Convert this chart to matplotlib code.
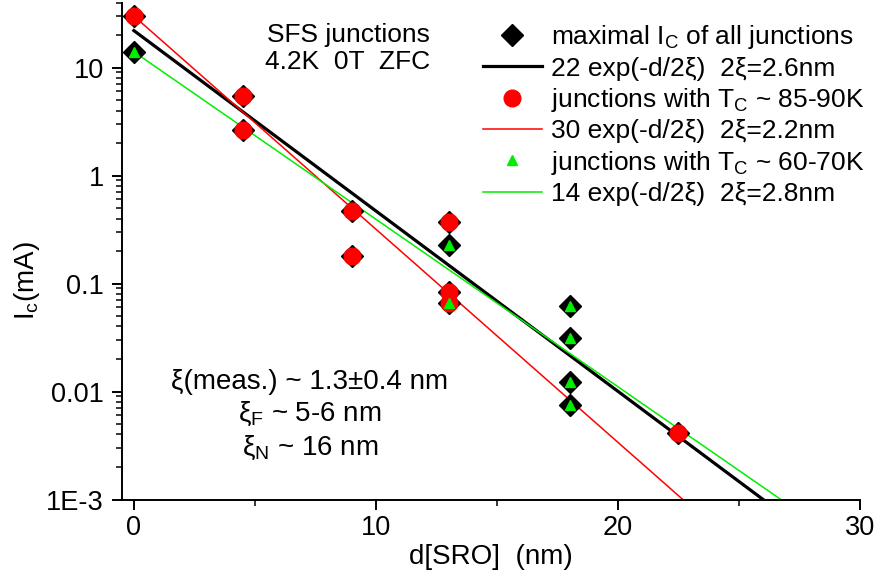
import numpy as np
import matplotlib
matplotlib.use("Agg")
import matplotlib.pyplot as plt
from matplotlib.lines import Line2D
from matplotlib.ticker import FixedLocator, LogLocator, NullFormatter, FixedFormatter

plt.rcParams['font.family'] = ['Liberation Sans', 'DejaVu Sans']
plt.rcParams['mathtext.fontset'] = 'custom'
plt.rcParams['mathtext.rm'] = 'Liberation Sans'

# Critical current of every junction (black diamonds)
d_all = [0, 0, 4.5, 4.5, 9, 9, 13, 13, 13, 13, 18, 18, 18, 18, 22.5]
ic_all = [30, 14, 5.4, 2.65, 0.47, 0.18, 0.37, 0.225, 0.083, 0.066, 0.062, 0.031, 0.0123, 0.0075, 0.0041]

# Junctions with Tc ~ 85-90 K
d_hi = [0, 4.5, 4.5, 9, 9, 13, 13, 13, 22.5]
ic_hi = [30, 5.4, 2.65, 0.47, 0.18, 0.37, 0.083, 0.066, 0.0041]

# Junctions with Tc ~ 60-70 K
d_lo = [0, 13, 13, 18, 18, 18, 18]
ic_lo = [14, 0.225, 0.066, 0.062, 0.031, 0.0123, 0.0075]

# Exponential fits: amplitude, 2*xi (nm), end of drawn range (nm)
fit_all = (22, 2.6, 26.0)
fit_hi = (30, 2.2, 22.7)
fit_lo = (14, 2.8, 26.7)

fig = plt.figure(figsize=(8.79, 5.86), dpi=100)
ax = fig.add_axes([0.1385, 0.1476, 0.8399, 0.8481])
ax.set_yscale('log')
ax.set_xlim(-0.5, 30)
ax.set_ylim(1e-3, 40)

for sp in ('top', 'right'):
    ax.spines[sp].set_visible(False)
for sp in ('left', 'bottom'):
    ax.spines[sp].set_linewidth(1.4)


def fit_curve(a, two_xi, dmax):
    d = np.linspace(0, dmax, 200)
    return d, a * np.exp(-d / two_xi)


ax.plot(*fit_curve(*fit_all), color='black', lw=2.3, zorder=2)
ax.plot(*fit_curve(*fit_hi), color='#ff0000', lw=1.1, zorder=2)
ax.plot(*fit_curve(*fit_lo), color='#00ee00', lw=1.1, zorder=2)

ax.plot(d_all, ic_all, ls='none', marker='D', ms=11, mfc='black', mec='black', zorder=3)
ax.plot(d_hi, ic_hi, ls='none', marker='o', ms=12, mfc='#ff0000', mec='#ff0000', zorder=4)
ax.plot(d_lo, ic_lo, ls='none', marker='^', ms=7.5, mfc='#00ee00', mec='#00ee00', zorder=5)

handles = [
    Line2D([], [], ls='none', marker='D', ms=11, mfc='black', mec='black'),
    Line2D([], [], color='black', lw=2.3),
    Line2D([], [], ls='none', marker='o', ms=12, mfc='#ff0000', mec='#ff0000'),
    Line2D([], [], color='#ff0000', lw=1.1),
    Line2D([], [], ls='none', marker='^', ms=7.5, mfc='#00ee00', mec='#00ee00'),
    Line2D([], [], color='#00ee00', lw=1.1),
]
labels = [
    r'maximal I$_\mathregular{C}$ of all junctions',
    '22 exp(-d/2ξ)  2ξ=2.6nm',
    r'junctions with T$_\mathregular{C}$ ~ 85-90K',
    '30 exp(-d/2ξ)  2ξ=2.2nm',
    r'junctions with T$_\mathregular{C}$ ~ 60-70K',
    '14 exp(-d/2ξ)  2ξ=2.8nm',
]
ax.legend(handles, labels, loc='upper left', bbox_to_anchor=(0.489, 0.958),
          frameon=False, fontsize=19, handlelength=2.24, handletextpad=0.34,
          labelspacing=0.2, borderaxespad=0, borderpad=0)

# Axis ticks
ax.xaxis.set_major_locator(FixedLocator([0, 10, 20, 30]))
ax.xaxis.set_minor_locator(FixedLocator([5, 15, 25]))
ax.yaxis.set_major_locator(FixedLocator([1e-3, 1e-2, 1e-1, 1, 10]))
ax.yaxis.set_major_formatter(FixedFormatter(['1E-3', '0.01', '0.1', '1', '10']))
ax.yaxis.set_minor_locator(LogLocator(base=10, subs=np.arange(2, 10), numticks=20))
ax.yaxis.set_minor_formatter(NullFormatter())
ax.tick_params(axis='both', which='major', direction='out', length=7.5, width=1.4,
               labelsize=19.5)
ax.tick_params(axis='both', which='minor', direction='out', length=4.5, width=1.1)
ax.tick_params(axis='x', which='major', pad=4)
ax.tick_params(axis='y', which='major', pad=5.5)

ax.set_xlabel('d[SRO]  (nm)', fontsize=20, labelpad=2)
ax.set_ylabel(r'I$_\mathregular{c}$(mA)', fontsize=20)
ax.yaxis.set_label_coords(-0.108, 0.44)

ax.text(0.3065, 0.908, 'SFS junctions\n4.2K  0T  ZFC', transform=ax.transAxes,
        ha='center', va='center', fontsize=19, linespacing=1.15)
ax.text(0.255, 0.236, 'ξ(meas.) ~ 1.3±0.4 nm', transform=ax.transAxes,
        ha='center', va='center', fontsize=20)
ax.text(0.255, 0.172, r'ξ$_\mathregular{F}$ ~ 5-6 nm', transform=ax.transAxes,
        ha='center', va='center', fontsize=20)
ax.text(0.255, 0.104, r'ξ$_\mathregular{N}$ ~ 16 nm', transform=ax.transAxes,
        ha='center', va='center', fontsize=20)

fig.savefig('out.png', dpi=100)
